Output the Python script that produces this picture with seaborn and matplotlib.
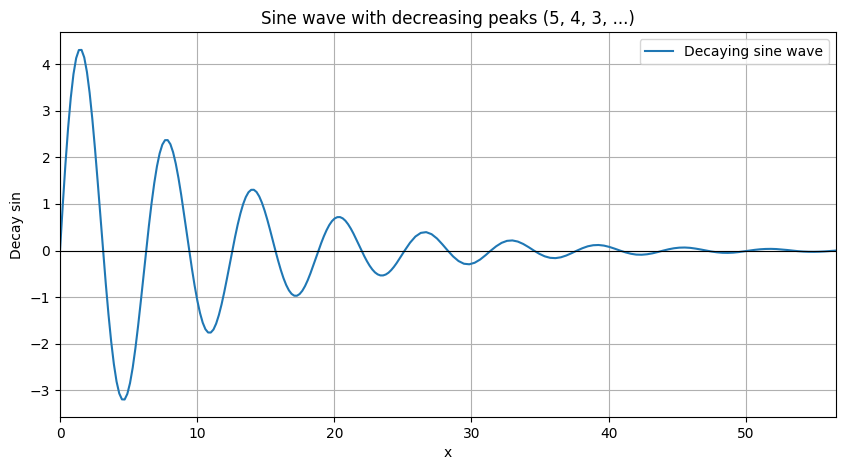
import numpy as np
import pandas as pd
import matplotlib
matplotlib.use("Agg")
import matplotlib.pyplot as plt
import seaborn as sns

# values
# first part: every pi/16 from 0 up to 8*pi (the big swings need more points)
dense_start = 0.0
dense_end = 25.13
dense_y = [
    0.000, 0.957, 1.843, 2.627, 3.281, 3.787, 4.130, 4.304,
    4.307, 4.146, 3.833, 3.386, 2.826, 2.180, 1.474, 0.737,
    0.000, -0.710, -1.368, -1.949, -2.435, -2.810, -3.065, -3.193,
    -3.196, -3.076, -2.844, -2.513, -2.097, -1.617, -1.094, -0.547,
    0.000, 0.527, 1.015, 1.446, 1.807, 2.085, 2.274, 2.370,
    2.371, 2.283, 2.111, 1.864, 1.556, 1.200, 0.811, 0.406,
    0.000, -0.391, -0.753, -1.073, -1.340, -1.547, -1.687, -1.758,
    -1.759, -1.694, -1.566, -1.383, -1.155, -0.890, -0.602, -0.301,
    0.000, 0.290, 0.559, 0.796, 0.995, 1.148, 1.252, 1.304,
    1.305, 1.257, 1.162, 1.026, 0.857, 0.661, 0.447, 0.223,
    0.000, -0.215, -0.415, -0.591, -0.738, -0.852, -0.929, -0.968,
    -0.969, -0.932, -0.862, -0.762, -0.636, -0.490, -0.331, -0.166,
    0.000, 0.160, 0.308, 0.438, 0.548, 0.632, 0.689, 0.718,
    0.719, 0.692, 0.640, 0.565, 0.472, 0.364, 0.246, 0.123,
    0.000, -0.119, -0.228, -0.325, -0.406, -0.469, -0.511, -0.533,
    -0.533, -0.513, -0.475, -0.419, -0.350, -0.270, -0.182, -0.091,
]
# second part: every pi/8 from 8*pi to 18*pi
tail_start = 25.13
tail_end = 56.55
tail_y = [
    0.000, 0.169, 0.302, 0.380, 0.396, 0.352, 0.260, 0.135,
    0.000, -0.126, -0.224, -0.282, -0.294, -0.261, -0.193, -0.101,
    0.000, 0.093, 0.166, 0.209, 0.218, 0.194, 0.143, 0.075,
    0.000, -0.069, -0.123, -0.155, -0.162, -0.144, -0.106, -0.055,
    0.000, 0.051, 0.092, 0.115, 0.120, 0.107, 0.079, 0.041,
    0.000, -0.038, -0.068, -0.086, -0.089, -0.079, -0.059, -0.031,
    0.000, 0.028, 0.050, 0.063, 0.066, 0.059, 0.043, 0.023,
    0.000, -0.021, -0.037, -0.047, -0.049, -0.044, -0.032, -0.017,
    0.000, 0.016, 0.028, 0.035, 0.037, 0.033, 0.024, 0.013,
    0.000, -0.012, -0.021, -0.026, -0.027, -0.024, -0.018, -0.009,
    0.000,
]

x_dense = np.linspace(dense_start, dense_end, len(dense_y) + 1)[:-1]
x_tail = np.linspace(tail_start, tail_end, len(tail_y))

data = pd.DataFrame({
    "x": np.concatenate([x_dense, x_tail]),
    "y": dense_y + tail_y,
})

fig = plt.figure(figsize=(8.44, 4.70), dpi=100)
ax = fig.add_axes([0.0711, 0.1128, 0.9189, 0.8182])

sns.lineplot(x="x", y="y", data=data, ax=ax, label="Decaying sine wave",
             color="#1f77b4", sort=False)
ax.axhline(0, color="black", linewidth=0.8)
ax.set_xlim(dense_start, tail_end)
ax.set_title("Sine wave with decreasing peaks (5, 4, 3, ...)")
ax.set_xlabel("x")
ax.set_ylabel("Decay sin")
ax.grid(True)
ax.legend(loc="upper right")

fig.savefig("out.png", dpi=100)
